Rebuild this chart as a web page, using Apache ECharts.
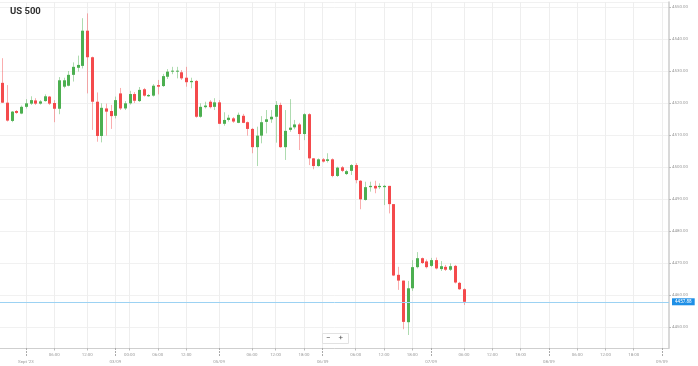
<!DOCTYPE html>
<html><head><meta charset="utf-8">
<script src="https://cdn.jsdelivr.net/npm/echarts@6/dist/echarts.min.js"></script>
<style>html,body{margin:0;padding:0;background:#fff}#c{width:698px;height:366px}</style>
</head><body><div id="c"></div>
<script>
const chartTitle = 'US 500';
const slotCount = 142;
const tickSlots = [5,11,18,24,27,33,39,46,53,58,64,68,75,81,87,91,98,104,110,116,122,128,134,140];
const tickLabels = ["Sept '23","06:00","12:00","03/09","00:00","06:00","12:00","05/09","06:00","12:00","18:00","06/09","06:00","12:00","18:00","07/09","06:00","12:00","18:00","08/09","06:00","12:00","18:00","09/09"];

const openV = [4526.3,4520.1,4514.4,4517.5,4516.7,4518.8,4519.8,4520.8,4519.8,4520.6,
4522.0,4520.0,4518.2,4525.1,4525.4,4528.8,4531.0,4531.6,4542.6,4534.3,
4520.4,4509.7,4518.3,4517.5,4516.0,4523.0,4518.3,4519.9,4522.8,4520.6,
4524.3,4522.1,4522.3,4525.6,4525.3,4528.2,4529.8,4529.8,4529.6,4527.9,
4526.5,4526.9,4515.7,4518.7,4520.4,4518.8,4520.2,4513.5,4514.7,4515.2,
4513.8,4516.0,4514.0,4511.9,4506.2,4509.8,4514.1,4514.9,4515.7,4519.4,
4506.2,4511.6,4512.4,4513.3,4510.3,4516.5,4502.7,4500.3,4502.4,4501.9,
4502.4,4497.2,4499.9,4497.8,4498.8,4500.6,4495.7,4489.7,4493.7,4494.1,
4493.7,4493.7,4494.1,4488.4,4466.3,4464.5,4451.5,4462.1,4468.7,4471.5,
4470.5,4469.1,4470.9,4468.1,4468.8,4467.9,4469.1,4463.8,4461.8];
const closeV = [4520.1,4514.5,4517.3,4516.9,4518.8,4519.9,4520.9,4519.8,4520.5,4522.1,
4519.8,4518.2,4527.1,4527.1,4528.8,4531.3,4531.9,4542.6,4534.3,4520.4,
4509.7,4518.5,4517.3,4515.9,4520.9,4518.3,4519.9,4522.8,4520.7,4524.1,
4522.3,4522.5,4525.4,4525.1,4528.4,4529.8,4530.1,4530.1,4527.7,4526.5,
4526.9,4515.7,4518.8,4519.2,4518.7,4520.2,4513.5,4514.7,4515.4,4514.2,
4516.3,4513.8,4511.9,4506.2,4509.8,4514.0,4514.9,4515.7,4519.4,4506.2,
4511.3,4512.3,4513.3,4510.3,4516.5,4502.7,4500.3,4502.4,4501.7,4502.4,
4497.2,4499.8,4498.8,4498.7,4500.6,4495.9,4489.9,4493.7,4494.1,4493.3,
4494.1,4494.1,4488.4,4466.1,4464.5,4451.6,4462.1,4468.7,4471.5,4470.0,
4468.7,4470.9,4468.3,4469.0,4467.9,4469.0,4463.9,4461.8,4457.88];
const highV = [4534.0,4525.6,4517.5,4517.8,4519.2,4521.2,4522.1,4521.5,4520.9,4522.7,
4522.2,4520.9,4528.1,4527.9,4530.0,4532.7,4534.8,4546.5,4548.0,4534.5,
4523.3,4519.9,4519.8,4519.4,4522.0,4524.7,4520.6,4523.8,4523.4,4525.0,
4524.7,4522.8,4525.9,4527.2,4529.1,4530.6,4531.3,4531.3,4530.3,4531.3,
4527.9,4527.2,4519.9,4520.4,4520.9,4521.5,4520.9,4517.1,4516.3,4515.6,
4517.0,4516.6,4514.2,4512.2,4512.6,4515.9,4517.8,4517.8,4520.6,4520.1,
4517.8,4521.2,4514.7,4513.8,4516.8,4516.8,4502.8,4502.7,4502.8,4504.3,
4502.7,4500.1,4500.3,4499.1,4500.9,4501.2,4495.9,4495.4,4495.4,4495.7,
4494.9,4494.4,4494.1,4488.4,4468.8,4464.5,4464.4,4470.9,4473.4,4471.7,
4471.1,4471.6,4471.7,4470.6,4469.4,4469.9,4469.4,4464.1,4462.1];
const lowV = [4520.0,4514.2,4514.0,4516.6,4516.5,4518.3,4519.4,4519.4,4519.5,4520.4,
4519.4,4514.0,4516.5,4524.6,4525.2,4526.7,4529.8,4530.8,4523.0,4511.6,
4507.9,4507.7,4509.8,4511.9,4515.2,4517.8,4517.8,4519.5,4520.0,4520.3,
4522.0,4521.9,4522.0,4522.7,4525.0,4527.5,4529.0,4527.7,4527.2,4525.1,
4524.6,4515.4,4515.4,4518.3,4518.3,4517.8,4513.4,4512.9,4514.2,4513.8,
4513.7,4513.7,4509.8,4504.3,4500.3,4507.4,4510.5,4513.8,4507.6,4506.0,
4502.2,4511.0,4511.8,4505.3,4508.4,4500.6,4499.3,4500.1,4501.4,4501.4,
4496.8,4496.9,4498.4,4497.5,4497.5,4494.9,4486.8,4489.5,4492.3,4491.8,
4493.1,4488.1,4485.5,4465.9,4461.6,4449.3,4447.5,4461.3,4468.3,4469.7,
4468.3,4468.8,4468.0,4467.5,4467.5,4467.5,4463.6,4461.6,4456.9];

const yMin = 4443.4375, yMax = 4551.5625;

// build helpers
const slotIds = [];
for (let i = 0; i < slotCount; i++) slotIds.push(String(i));
const timeCats = new Array(slotCount).fill('');
const dateCats = new Array(slotCount).fill('');
const timeSet = new Set(), dateSet = new Set(), allSet = new Set(tickSlots);
tickSlots.forEach((s, k) => {
  const t = tickLabels[k];
  if (t.indexOf(':') >= 0) { timeCats[s] = t; timeSet.add(s); }
  else { dateCats[s] = t; dateSet.add(s); }
});
const candles = openV.map((o, i) => [i, o, closeV[i], lowV[i], highV[i]]);
const lastClose = closeV[closeV.length - 1];

const upColor = '#4caf50', downColor = '#f44a4c';
const upWick = 'rgba(76,175,80,0.45)', downWick = 'rgba(244,74,76,0.45)';
const FONT = 'Roboto';

const chart = echarts.init(document.getElementById('c'), null, {renderer: 'canvas'});
chart.setOption({
  animation: false,
  backgroundColor: '#fff',
  title: {text: chartTitle, left: 10, top: 7, padding: 0,
    textStyle: {fontSize: 9.5, fontWeight: 'bold', color: '#333', fontFamily: FONT}},
  grid: {left: 0, right: 29, top: 2, bottom: 18, containLabel: false},
  xAxis: [{
    type: 'category', data: slotIds, boundaryGap: true, position: 'bottom',
    axisLine: {show: true, lineStyle: {color: '#cfcfcf', width: 1}},
    axisTick: {show: true, alignWithLabel: true, length: 2.5, interval: (i) => timeSet.has(i), lineStyle: {color: '#bbb'}},
    axisLabel: {interval: (i) => timeSet.has(i), formatter: (v) => timeCats[+v], fontSize: 4.4, color: '#999', margin: 5, fontFamily: FONT},
    splitLine: {show: true, alignWithLabel: true, interval: (i) => allSet.has(i), lineStyle: {color: '#eeeeee', width: 1}}
  }, {
    type: 'category', data: slotIds, boundaryGap: true, position: 'bottom',
    axisLine: {show: false},
    axisTick: {show: true, alignWithLabel: true, length: 8, interval: (i) => dateSet.has(i), lineStyle: {color: '#aaa', type: [2, 1]}},
    axisLabel: {interval: (i) => dateSet.has(i), formatter: (v) => dateCats[+v], fontSize: 4.4, color: '#999', margin: 12, fontFamily: FONT},
    splitLine: {show: false}
  }],
  yAxis: {
    type: 'value', position: 'right', min: yMin, max: yMax, splitNumber: 10,
    axisLine: {show: true, lineStyle: {color: '#cccccc', width: 1.5}},
    axisTick: {show: true, length: 2, lineStyle: {color: '#bbb'}},
    axisLabel: {fontSize: 4.4, color: '#999', margin: 3, fontFamily: FONT,
      formatter: (v) => v.toFixed(2), showMinLabel: false, showMaxLabel: false},
    splitLine: {show: true, lineStyle: {color: '#f1f1f1'}}
  },
  graphic: [
    {type: 'rect', left: 322, top: 333, shape: {width: 26, height: 10}, style: {fill: '#fff', stroke: '#e2e2e2', lineWidth: 1}, z: 100},
    {type: 'text', left: 326, top: 333.5, style: {text: '\u2212', fontSize: 8, fill: '#555', fontFamily: FONT}, z: 101},
    {type: 'text', left: 338.5, top: 333.5, style: {text: '+', fontSize: 8, fill: '#555', fontFamily: FONT}, z: 101}
  ],
  series: [{
    type: 'custom', xAxisIndex: 0, yAxisIndex: 0,
    data: candles,
    encode: {x: 0, y: [1, 2, 3, 4]},
    renderItem: function (params, api) {
      const i = api.value(0), o = api.value(1), c = api.value(2), l = api.value(3), h = api.value(4);
      const po = api.coord([i, o]), pc = api.coord([i, c]), pl = api.coord([i, l]), ph = api.coord([i, h]);
      const up = c >= o;
      const cx = Math.round(po[0]) + 0.5;
      const top = Math.min(po[1], pc[1]), bot = Math.max(po[1], pc[1]);
      return {type: 'group', children: [
        {type: 'line', shape: {x1: cx, y1: ph[1], x2: cx, y2: pl[1]}, style: {stroke: up ? upWick : downWick, lineWidth: 1}},
        {type: 'rect', shape: {x: cx - 1.5, y: top, width: 3, height: Math.max(bot - top, 1)}, style: {fill: up ? upColor : downColor}}
      ]};
    },
    markLine: {
      silent: true, symbol: ['none', 'none'], animation: false,
      lineStyle: {color: '#9cd2f3', width: 1, type: 'solid'},
      label: {show: true, position: 'end', distance: 3, formatter: () => lastClose.toFixed(2),
        backgroundColor: '#1e8fe6', color: '#fff', fontSize: 4.6, padding: [1, 3], fontFamily: FONT},
      data: [{yAxis: lastClose}]
    }
  }]
});
</script>
</body></html>
